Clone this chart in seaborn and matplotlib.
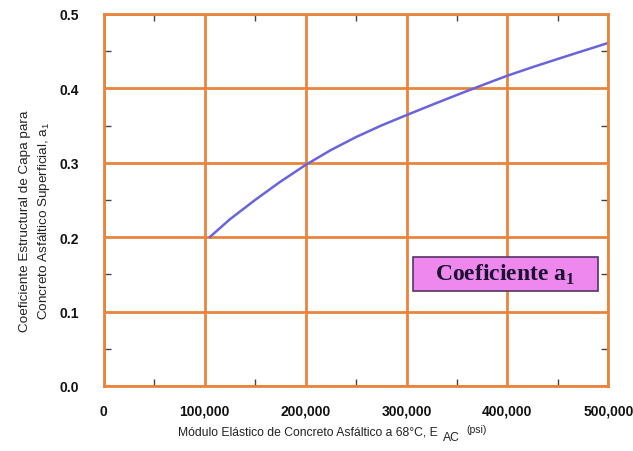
import matplotlib
matplotlib.use("Agg")
import pandas as pd
import matplotlib.pyplot as plt
import seaborn as sns
from matplotlib.patches import Rectangle
from matplotlib.ticker import MultipleLocator, FuncFormatter

# values
modulus_psi = [105000, 125000, 150000, 175000, 200000, 225000, 250000, 275000, 300000,
               325000, 350000, 375000, 400000, 425000, 450000, 475000, 500000]
coef_a1 = [0.200, 0.224, 0.250, 0.2745, 0.297, 0.317, 0.3345, 0.350, 0.364,
           0.3777, 0.3911, 0.4042, 0.417, 0.4285, 0.4395, 0.4503, 0.461]

x_ticks = [0, 100000, 200000, 300000, 400000, 500000]
y_ticks = [0.0, 0.1, 0.2, 0.3, 0.4, 0.5]

df = pd.DataFrame({"E": modulus_psi, "a1": coef_a1})

sns.set_style("white")
plt.rcParams["font.family"] = ["Liberation Sans", "DejaVu Sans"]
plt.rcParams["mathtext.fontset"] = "custom"
plt.rcParams["mathtext.rm"] = "Liberation Sans"

grid_col = "#e9843c"
txt_col = "#222222"

fig = plt.figure(figsize=(6.33, 4.52), dpi=100)
ax = fig.add_axes([0.164, 0.144, 0.797, 0.823])

sns.lineplot(data=df, x="E", y="a1", ax=ax, color="#6a64dc", linewidth=1.8)

ax.set_xlim(0, 500000)
ax.set_ylim(0, 0.5)
ax.set_xticks(x_ticks)
ax.set_yticks(y_ticks)
ax.xaxis.set_minor_locator(MultipleLocator(50000))
ax.yaxis.set_minor_locator(MultipleLocator(0.05))
ax.xaxis.set_major_formatter(FuncFormatter(lambda v, p: "0" if v == 0 else f"{int(v):,}"))
ax.yaxis.set_major_formatter(FuncFormatter(lambda v, p: f"{v:.1f}"))

ax.grid(True, which="major", color=grid_col, linewidth=2)
for s in ax.spines.values():
    s.set_color(grid_col)
    s.set_linewidth(2)

ax.tick_params(which="major", length=0, labelsize=10, colors="#111111")
ax.tick_params(axis="x", which="major", pad=13)
ax.tick_params(axis="y", which="major", pad=18)
ax.tick_params(which="minor", direction="in", length=5, width=1, color="#444444",
               top=True, right=True, bottom=True, left=True)
for lab in ax.get_xticklabels() + ax.get_yticklabels():
    lab.set_fontweight("bold")

ax.set_xlabel("")
ax.set_ylabel("")

# x axis title, with the subscript drawn at near full size like the original
main = fig.text(0.281, 0.044, "Módulo Elástico de Concreto Asfáltico a 68°C, E",
                ha="left", va="center", fontsize=8.7, color=txt_col)
sub = fig.text(0, 0, "AC", fontsize=8.7, color=txt_col, ha="left", va="baseline")
fig.canvas.draw()
bb = main.get_window_extent().transformed(fig.transFigure.inverted())
sub.set_position((bb.x1 + 0.008, bb.y0 - 0.006))
sb = sub.get_window_extent().transformed(fig.transFigure.inverted())
fig.text(sb.x1 + 0.010, bb.y0 + 0.012, "(psi)", ha="left", va="baseline",
         fontsize=7.5, color=txt_col)

fig.text(0.056, 0.511,
         "Coeficiente Estructural de Capa para\nConcreto Asfáltico Superficial, a$\\mathregular{_1}$",
         ha="center", va="center", rotation=90, fontsize=9.7, color=txt_col,
         linespacing=1.4)

# legend-like label box
ax.add_patch(Rectangle((0.612, 0.255), 0.367, 0.092, transform=ax.transAxes,
                       facecolor="#ee88ee", edgecolor="#553366", linewidth=1.2, zorder=5))
ax.text(0.7955, 0.301, "Coeficiente a$_\\mathregular{1}$", transform=ax.transAxes,
        ha="center", va="center", fontsize=17, fontweight="bold",
        family="Liberation Serif", color="#1a1030", zorder=6)

fig.savefig("out.png", dpi=100)
